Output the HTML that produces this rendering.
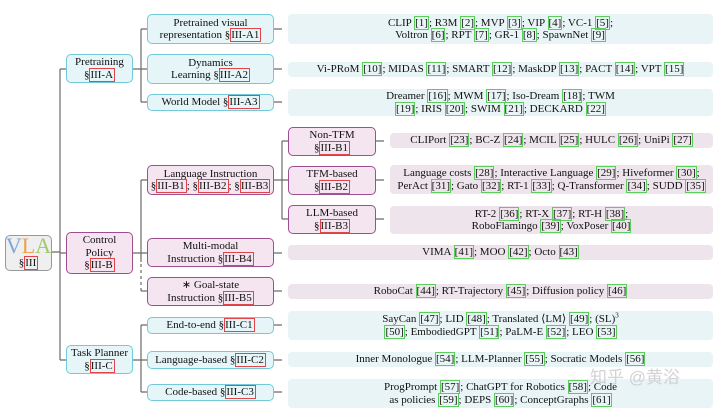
<!DOCTYPE html>
<html><head><meta charset="utf-8"><style>
*{margin:0;padding:0;box-sizing:border-box}
body{width:720px;height:415px;background:#fff;position:relative;overflow:hidden;font-family:"Liberation Serif",serif;font-size:11px;color:#111;line-height:12.5px}
.b{position:absolute;display:flex;align-items:center;justify-content:center;text-align:center;border-radius:5px;white-space:nowrap}
.bl{background:#e5f5f8;border:1.3px solid #72c9d9}
.pk{background:#f4e5f1;border:1.3px solid #9d4f90}
.lb{background:#e9f4f6;border-radius:4px}
.lp{background:#eee4ec;border-radius:4px}
.r{border:1px solid #e0454a;padding:0 1px 0 0}
.g{border:1px solid #5ccd5c;padding:0}
svg{position:absolute;left:0;top:0}
</style></head><body>
<svg width="720" height="415" stroke="#6a6a6a" stroke-width="1.2" fill="none">
<path d="M52 252H60M60 69V360M60 69H66M60 253H66M60 360H66"/>
<path d="M133 69H141M141 29V102M141 29H147M141 69H147M141 102H147"/>
<path d="M133 253H141M141 180V262M141 180H147M141 253H147"/>
<path d="M141 264V291" stroke-dasharray="3,3"/><path d="M141 291H147"/>
<path d="M133 360H141M141 325V392M141 325H147M141 360H147M141 392H147"/>
<path d="M274 29H282M274 69H282M274 102H282M274 253H282M274 291H282M274 325H282M274 360H282M274 392H282"/>
<path d="M274 180H282M282 141V219M282 141H288M282 180H288M282 219H288"/>
<path d="M376 141H384M376 180H384M376 219H384"/>
</svg>
<div class="b" style="left:5px;top:235px;width:47px;height:36px;background:#efefef;border:1.3px solid #999;flex-direction:column;line-height:14px"><div style="font-size:22px;line-height:20px"><span style="color:#80a8d8">V</span><span style="color:#eda24a">L</span><span style="color:#a3c96a">A</span></div><div>§<span class="r">III</span></div></div>

<div class="b bl" style="left:66px;top:54px;width:67px;height:29px"><div>Pretraining<br>§<span class="r">III-A</span></div></div>
<div class="b pk" style="left:66px;top:232px;width:67px;height:42px"><div>Control<br>Policy<br>§<span class="r">III-B</span></div></div>
<div class="b bl" style="left:66px;top:345px;width:67px;height:29px"><div>Task Planner<br>§<span class="r">III-C</span></div></div>

<div class="b bl" style="left:147px;top:14px;width:127px;height:30px"><div>Pretrained visual<br>representation §<span class="r">III-A1</span></div></div>
<div class="b bl" style="left:147px;top:54px;width:127px;height:30px"><div>Dynamics<br>Learning §<span class="r">III-A2</span></div></div>
<div class="b bl" style="left:147px;top:94px;width:127px;height:17px"><div>World Model §<span class="r">III-A3</span></div></div>
<div class="b pk" style="left:147px;top:165px;width:127px;height:30px"><div>Language Instruction<br>§<span class="r">III-B1</span>; §<span class="r">III-B2</span>; §<span class="r">III-B3</span></div></div>
<div class="b pk" style="left:147px;top:238px;width:127px;height:29px"><div>Multi-modal<br>Instruction §<span class="r">III-B4</span></div></div>
<div class="b pk" style="left:147px;top:277px;width:127px;height:29px"><div>∗ Goal-state<br>Instruction §<span class="r">III-B5</span></div></div>
<div class="b bl" style="left:147px;top:317px;width:127px;height:17px"><div>End-to-end §<span class="r">III-C1</span></div></div>
<div class="b bl" style="left:147px;top:351px;width:127px;height:18px"><div>Language-based §<span class="r">III-C2</span></div></div>
<div class="b bl" style="left:147px;top:384px;width:127px;height:17px"><div>Code-based §<span class="r">III-C3</span></div></div>

<div class="b pk" style="left:288px;top:127px;width:88px;height:29px"><div>Non-TFM<br>§<span class="r">III-B1</span></div></div>
<div class="b pk" style="left:288px;top:166px;width:88px;height:29px"><div>TFM-based<br>§<span class="r">III-B2</span></div></div>
<div class="b pk" style="left:288px;top:205px;width:88px;height:29px"><div>LLM-based<br>§<span class="r">III-B3</span></div></div>

<div class="b lb" style="left:288px;top:14px;width:425px;height:30px"><div>CLIP <span class="g">[1]</span>; R3M <span class="g">[2]</span>; MVP <span class="g">[3]</span>; VIP <span class="g">[4]</span>; VC-1 <span class="g">[5]</span>;<br>Voltron <span class="g">[6]</span>; RPT <span class="g">[7]</span>; GR-1 <span class="g">[8]</span>; SpawnNet <span class="g">[9]</span></div></div>
<div class="b lb" style="left:288px;top:62px;width:425px;height:15px"><div>Vi-PRoM <span class="g">[10]</span>; MIDAS <span class="g">[11]</span>; SMART <span class="g">[12]</span>; MaskDP <span class="g">[13]</span>; PACT <span class="g">[14]</span>; VPT <span class="g">[15]</span></div></div>
<div class="b lb" style="left:288px;top:89px;width:425px;height:27px"><div>Dreamer <span class="g">[16]</span>; MWM <span class="g">[17]</span>; Iso-Dream <span class="g">[18]</span>; TWM<br><span class="g">[19]</span>; IRIS <span class="g">[20]</span>; SWIM <span class="g">[21]</span>; DECKARD <span class="g">[22]</span></div></div>
<div class="b lp" style="left:390px;top:133px;width:323px;height:15px"><div>CLIPort <span class="g">[23]</span>; BC-Z <span class="g">[24]</span>; MCIL <span class="g">[25]</span>; HULC <span class="g">[26]</span>; UniPi <span class="g">[27]</span></div></div>
<div class="b lp" style="left:390px;top:165px;width:323px;height:29px"><div>Language costs <span class="g">[28]</span>; Interactive Language <span class="g">[29]</span>; Hiveformer <span class="g">[30]</span>;<br>PerAct <span class="g">[31]</span>; Gato <span class="g">[32]</span>; RT-1 <span class="g">[33]</span>; Q-Transformer <span class="g">[34]</span>; SUDD <span class="g">[35]</span></div></div>
<div class="b lp" style="left:390px;top:206px;width:323px;height:28px"><div>RT-2 <span class="g">[36]</span>; RT-X <span class="g">[37]</span>; RT-H <span class="g">[38]</span>;<br>RoboFlamingo <span class="g">[39]</span>; VoxPoser <span class="g">[40]</span></div></div>
<div class="b lp" style="left:288px;top:245px;width:425px;height:15px"><div>VIMA <span class="g">[41]</span>; MOO <span class="g">[42]</span>; Octo <span class="g">[43]</span></div></div>
<div class="b lp" style="left:288px;top:284px;width:425px;height:15px"><div>RoboCat <span class="g">[44]</span>; RT-Trajectory <span class="g">[45]</span>; Diffusion policy <span class="g">[46]</span></div></div>
<div class="b lb" style="left:288px;top:311px;width:425px;height:29px"><div>SayCan <span class="g">[47]</span>; LID <span class="g">[48]</span>; Translated ⟨LM⟩ <span class="g">[49]</span>; (SL)<sup style="font-size:7px;line-height:0">3</sup><br><span class="g">[50]</span>; EmbodiedGPT <span class="g">[51]</span>; PaLM-E <span class="g">[52]</span>; LEO <span class="g">[53]</span></div></div>
<div class="b lb" style="left:288px;top:352px;width:425px;height:15px"><div>Inner Monologue <span class="g">[54]</span>; LLM-Planner <span class="g">[55]</span>; Socratic Models <span class="g">[56]</span></div></div>
<div class="b lb" style="left:288px;top:379px;width:425px;height:29px"><div>ProgPrompt <span class="g">[57]</span>; ChatGPT for Robotics <span class="g">[58]</span>; Code<br>as policies <span class="g">[59]</span>; DEPS <span class="g">[60]</span>; ConceptGraphs <span class="g">[61]</span></div></div>
<div style="position:absolute;left:590px;top:372px;font-family:'Liberation Sans','Noto Sans CJK SC',sans-serif;font-size:17px;color:rgba(200,200,200,0.8)">知乎 @黄浴</div>
</body></html>
